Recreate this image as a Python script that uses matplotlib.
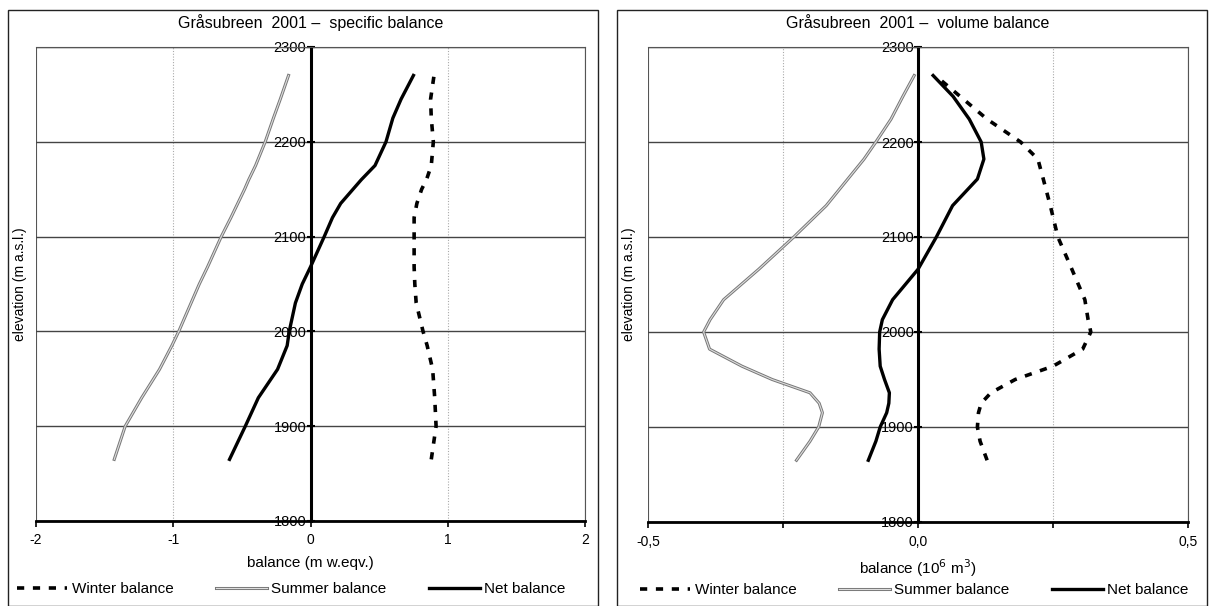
import matplotlib
matplotlib.use("Agg")
import matplotlib.pyplot as plt
import matplotlib.patheffects as pe
from matplotlib.patches import Rectangle

plt.rcParams['font.family'] = ['Liberation Sans', 'DejaVu Sans']

# specific balance (m w.eqv.)
elev_spec = [1865, 1900, 1930, 1960, 1985, 2000, 2030, 2050, 2068, 2100,
             2120, 2135, 2150, 2160, 2175, 2200, 2225, 2245, 2270]
winter_spec = [0.88, 0.915, 0.905, 0.89, 0.85, 0.82, 0.77, 0.76, 0.755, 0.755,
               0.755, 0.775, 0.81, 0.845, 0.88, 0.895, 0.88, 0.875, 0.90]
summer_spec = [-1.43, -1.35, -1.23, -1.10, -1.01, -0.96, -0.87, -0.81, -0.75, -0.65,
               -0.58, -0.53, -0.48, -0.45, -0.40, -0.33, -0.27, -0.22, -0.16]
net_spec = [-0.59, -0.475, -0.38, -0.24, -0.17, -0.155, -0.11, -0.06, 0.0, 0.10,
            0.16, 0.22, 0.31, 0.37, 0.47, 0.55, 0.60, 0.66, 0.75]

# volume balance (10^6 m3)
elev_vol = [1865, 1885, 1900, 1915, 1925, 1936, 1950, 1964, 1982, 2000, 2013,
            2034, 2066, 2100, 2133, 2161, 2182, 2200, 2224, 2248, 2270]
winter_vol = [0.128, 0.115, 0.11, 0.112, 0.117, 0.135, 0.18, 0.25, 0.305, 0.32, 0.315,
              0.309, 0.285, 0.259, 0.245, 0.232, 0.222, 0.19, 0.128, 0.078, 0.032]
summer_vol = [-0.225, -0.20, -0.184, -0.177, -0.183, -0.20, -0.27, -0.326, -0.386, -0.397, -0.385,
              -0.36, -0.295, -0.23, -0.17, -0.13, -0.10, -0.078, -0.05, -0.028, -0.007]
net_vol = [-0.092, -0.078, -0.07, -0.058, -0.054, -0.053, -0.062, -0.07, -0.072, -0.071, -0.066,
           -0.047, 0.0, 0.034, 0.064, 0.11, 0.122, 0.117, 0.095, 0.065, 0.028]

y_ticks = [1800, 1900, 2000, 2100, 2200, 2300]

fig = plt.figure(figsize=(12.11, 6.06), dpi=100)

# panel frames
for x0 in [8 / 1211, 617 / 1211]:
    fig.add_artist(Rectangle((x0, 0.0), 590 / 1211, 596 / 606, transform=fig.transFigure,
                             fill=False, edgecolor='#222222', linewidth=1.0))

ax1 = fig.add_axes([36 / 1211, 1 - 521 / 606, 549 / 1211, 474 / 606])
ax2 = fig.add_axes([648 / 1211, 1 - 522 / 606, 540 / 1211, 475 / 606])

summer_fx = [pe.Stroke(linewidth=2.2, foreground='#777777'), pe.Normal()]


def setup(ax, xlim, xticks, xlabels, vgrid, title, xlabel, ylab_x):
    ax.set_xlim(xlim)
    ax.set_ylim(1800, 2300)
    ax.set_xticks(xticks)
    ax.set_xticklabels(xlabels)
    ax.set_yticks(y_ticks)
    ax.set_yticklabels([str(v) for v in y_ticks])
    for v in vgrid:
        ax.axvline(v, color='#aaaaaa', lw=0.8, ls=(0, (1, 1.5)), zorder=0)
    ax.grid(axis='y', color='#444444', lw=1.0, zorder=0)
    ax.spines['left'].set_position(('data', 0))
    ax.spines['left'].set_linewidth(2.2)
    ax.spines['bottom'].set_linewidth(2.0)
    for s in ['top', 'right']:
        ax.spines[s].set_color('#555555')
        ax.spines[s].set_linewidth(0.8)
    ax.add_patch(Rectangle((0, 0), 1, 1, transform=ax.transAxes, fill=False,
                           edgecolor='#555555', lw=0.8, zorder=0))
    ax.tick_params(axis='y', direction='inout', length=6, width=1.5, pad=0, labelsize=10.5)
    ax.tick_params(axis='x', direction='out', length=4, width=1.2, pad=5, labelsize=10)
    ax.set_title(title, fontsize=11.5, pad=14)
    ax.set_xlabel(xlabel, fontsize=11, labelpad=6)
    ax.set_ylabel('elevation (m a.s.l.)', fontsize=10)
    ax.yaxis.set_label_coords(ylab_x, 0.5, transform=ax.transAxes)


def draw(ax, elev, w, s, n, leg_x):
    ax.plot(w, elev, color='black', lw=2.6, ls=(0, (2.0, 2.4)), label='Winter balance')
    ax.plot(s, elev, color='#dddddd', lw=0.8, path_effects=summer_fx, label='Summer balance')
    ax.plot(n, elev, color='black', lw=2.4, label='Net balance')
    ax.legend(loc='upper center', bbox_to_anchor=(leg_x, -0.1), ncol=3, frameon=False,
              fontsize=11, handlelength=3.3, columnspacing=2.8, handletextpad=0.3)


draw(ax1, elev_spec, winter_spec, summer_spec, net_spec, 0.465)
setup(ax1, (-2, 2), [-2, -1, 0, 1, 2], ['-2', '-1', '0', '1', '2'], [-1, 1],
      'Gråsubreen  2001 –  specific balance', 'balance (m w.eqv.)', -0.017)

draw(ax2, elev_vol, winter_vol, summer_vol, net_vol, 0.493)
setup(ax2, (-0.5, 0.5), [-0.5, -0.25, 0, 0.25, 0.5], ['-0,5', '', '0,0', '', '0,5'], [-0.25, 0.25],
      'Gråsubreen  2001 –  volume balance', 'balance (10$^6$ m$^3$)', -0.023)

fig.savefig('out.png', dpi=100)
